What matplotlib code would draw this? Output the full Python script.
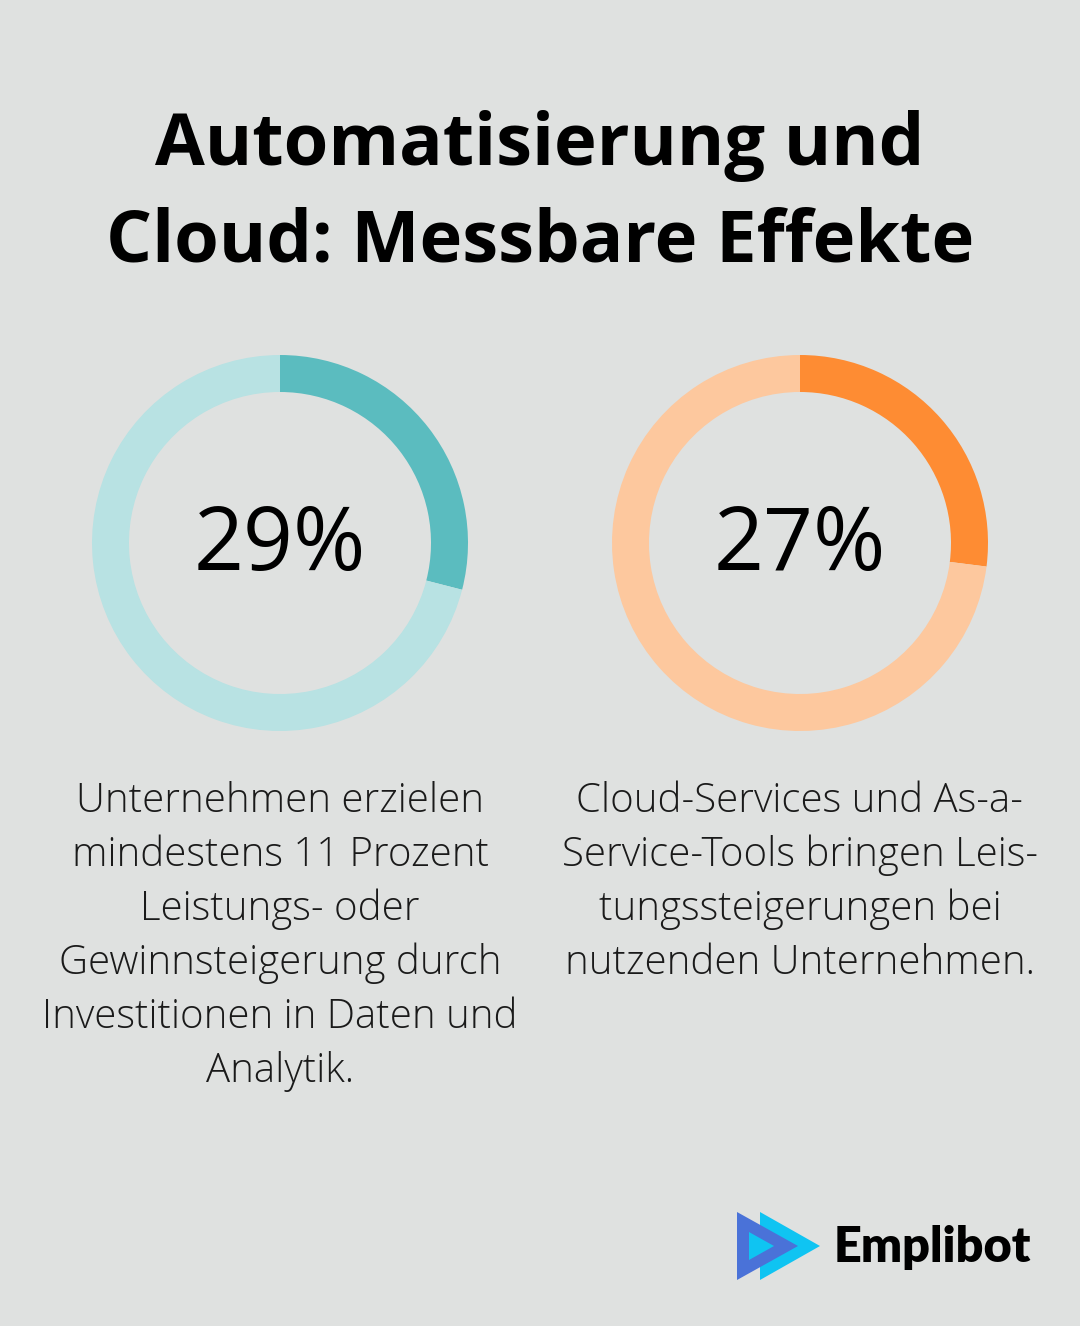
import matplotlib
matplotlib.use("Agg")
import matplotlib.pyplot as plt
from matplotlib.patches import Polygon

# ---- data ----
values = [29, 27]
labels = ["29%", "27%"]
descriptions = [
    ["Unternehmen erzielen", "mindestens 11 Prozent", "Leistungs- oder",
     "Gewinnsteigerung durch", "Investitionen in Daten und", "Analytik."],
    ["Cloud-Services und As-a-", "Service-Tools bringen Leis-",
     "tungssteigerungen bei", "nutzenden Unternehmen."],
]
main_colors = ["#5bbcbf", "#fe8c33"]
light_colors = ["#b8e2e3", "#fdc89e"]
title_lines = ["Automatisierung und", "Cloud: Messbare Effekte"]

BG = "#dfe1e0"
W, H = 1080, 1326
fig = plt.figure(figsize=(W / 100, H / 100), dpi=100, facecolor=BG)

def fy(y):
    return 1 - y / H

def fx(x):
    return x / W

# Title
for i, line in enumerate(title_lines):
    fig.text(0.5, fy(165 + 97 * i), line, ha="center", va="baseline",
             fontsize=52, fontweight="bold", family="Open Sans", color="black")

centers = [280, 800]
R = 188
for i, (v, cx) in enumerate(zip(values, centers)):
    ax = fig.add_axes([fx(cx - R), fy(543 + R), 2 * R / W, 2 * R / H])
    ax.set_facecolor(BG)
    ax.pie([v, 100 - v], colors=[main_colors[i], light_colors[i]],
           startangle=90, counterclock=False, radius=1,
           wedgeprops=dict(width=37 / R, linewidth=0))
    ax.set_xlim(-1, 1)
    ax.set_ylim(-1, 1)
    ax.axis("off")
    fig.text(fx(cx), fy(570), labels[i], ha="center", va="baseline",
             fontsize=63, fontweight=500, family="Open Sans", color="black")
    for j, line in enumerate(descriptions[i]):
        fig.text(fx(cx), fy(812 + 54 * j), line, ha="center", va="baseline",
                 fontsize=28.9, fontweight="light", family="Open Sans",
                 color="#1a1a1a")

# Logo
lax = fig.add_axes([0, 0, 1, 1], facecolor="none")
lax.set_xlim(0, W)
lax.set_ylim(H, 0)
lax.axis("off")
lax.add_patch(Polygon([[760, 1212], [820, 1246], [760, 1280]], closed=True,
                      color="#0fc4f2", lw=0))
lax.add_patch(Polygon([[737, 1212], [798, 1246], [737, 1280]], closed=True,
                      color="#4a72d8", lw=0))
lax.add_patch(Polygon([[749, 1232], [774, 1246], [749, 1260]], closed=True,
                      color="#0fc4f2", lw=0))
lax.text(834, 1262, "Emplibot", ha="left", va="baseline", fontsize=35,
         fontweight="heavy", family="Lato", color="black")

fig.savefig("out.png", dpi=100, facecolor=BG)
